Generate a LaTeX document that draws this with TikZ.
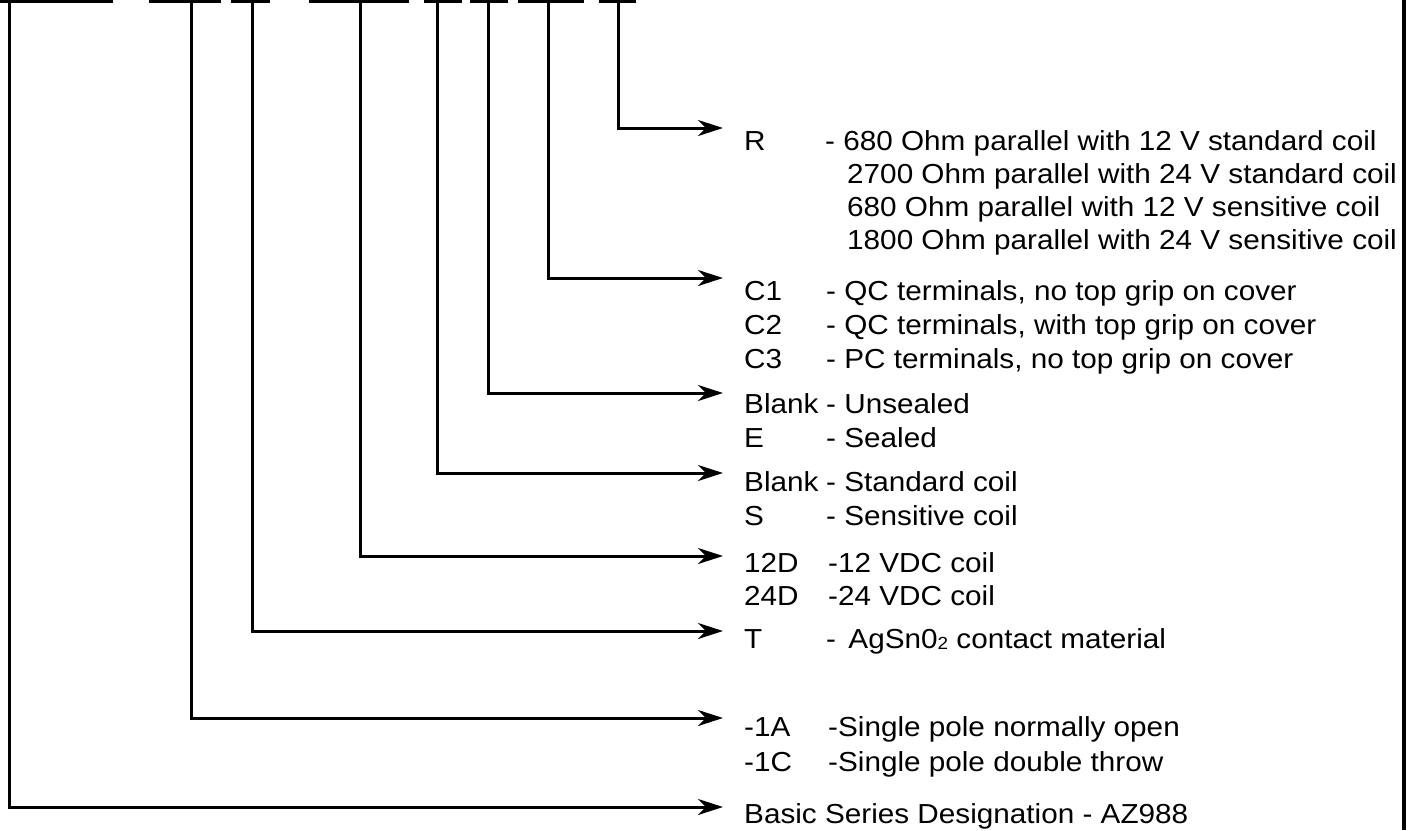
\documentclass[tikz,border=0pt]{standalone}
\usepackage{fontspec}
\setmainfont{Liberation Sans}[FakeStretch=1.08]
\usetikzlibrary{arrows.meta}
\begin{document}
\begin{tikzpicture}[x=1pt,y=-1pt,
  bar/.style={line width=3.2pt},
  conn/.style={line width=3pt,-{Stealth[length=25pt,width=16pt,inset=8pt]}},
  lbl/.style={anchor=base west,inner sep=0pt,font=\fontsize{27.5}{32}\selectfont}]
\useasboundingbox (0,0) rectangle (1416,830);
% top segments of part number
\draw[bar] (0,1.6) -- (113,1.6);
\draw[bar] (149,1.6) -- (221,1.6);
\draw[bar] (231,1.6) -- (270,1.6);
\draw[bar] (309,1.6) -- (409,1.6);
\draw[bar] (424,1.6) -- (462,1.6);
\draw[bar] (470,1.6) -- (508,1.6);
\draw[bar] (518,1.6) -- (584,1.6);
\draw[bar] (599,1.6) -- (636,1.6);
% right border
\draw[line width=3.2pt] (1404,0) -- (1404,830);
% connector start and end points
\coordinate (s1) at (9,0);   \coordinate (e1) at (723,807);
\coordinate (s2) at (191,0); \coordinate (e2) at (723,718);
\coordinate (s3) at (252,0); \coordinate (e3) at (723,631);
\coordinate (s4) at (360,0); \coordinate (e4) at (723,556);
\coordinate (s5) at (437,0); \coordinate (e5) at (723,473);
\coordinate (s6) at (488,0); \coordinate (e6) at (723,393);
\coordinate (s7) at (548,0); \coordinate (e7) at (723,278);
\coordinate (s8) at (618,0); \coordinate (e8) at (723,128);
\foreach \i in {1,...,8} {\draw[conn] (s\i) |- (e\i);}
% R group
\node[lbl] (lR) at (744,150) {R};
\node[lbl] (dR1) at (825,150) {- 680 Ohm parallel with 12 V standard coil};
\node[lbl] (dR2) at (847,183) {2700 Ohm parallel with 24 V standard coil};
\node[lbl] (dR3) at (847,216) {680 Ohm parallel with 12 V sensitive coil};
\node[lbl] (dR4) at (847,249) {1800 Ohm parallel with 24 V sensitive coil};
% C group
\node[lbl] (lC1) at (744,300) {C1};
\node[lbl] (dC1) at (826,300) {- QC terminals, no top grip on cover};
\node[lbl] (lC2) at (744,334) {C2};
\node[lbl] (dC2) at (826,334) {- QC terminals, with top grip on cover};
\node[lbl] (lC3) at (744,368) {C3};
\node[lbl] (dC3) at (826,368) {- PC terminals, no top grip on cover};
% seal group
\node[lbl] (lB1) at (744,413) {Blank};
\node[lbl] (dB1) at (826,413) {- Unsealed};
\node[lbl] (lE) at (744,447) {E};
\node[lbl] (dE) at (826,447) {- Sealed};
% coil sensitivity
\node[lbl] (lB2) at (744,491) {Blank};
\node[lbl] (dB2) at (826,491) {- Standard coil};
\node[lbl] (lS) at (744,525) {S};
\node[lbl] (dS) at (826,525) {- Sensitive coil};
% voltage
\node[lbl] (l12) at (744,572) {12D};
\node[lbl] (d12) at (828,572) {-12 VDC coil};
\node[lbl] (l24) at (744,605) {24D};
\node[lbl] (d24) at (828,605) {-24 VDC coil};
% contact material
\node[lbl] (lT) at (744,648) {T};
\node[lbl] (dT) at (826,648) {-\hspace{0.45em}AgSn0\raisebox{-1.5pt}{\fontsize{17.5}{17.5}\selectfont 2} contact material};
% form
\node[lbl] (l1A) at (744,736) {-1A};
\node[lbl] (d1A) at (828,736) {-Single pole normally open};
\node[lbl] (l1C) at (744,771) {-1C};
\node[lbl] (d1C) at (828,771) {-Single pole double throw};
% basic
\node[lbl] (lBasic) at (744,823) {Basic Series Designation - AZ988};
\end{tikzpicture}
\end{document}
